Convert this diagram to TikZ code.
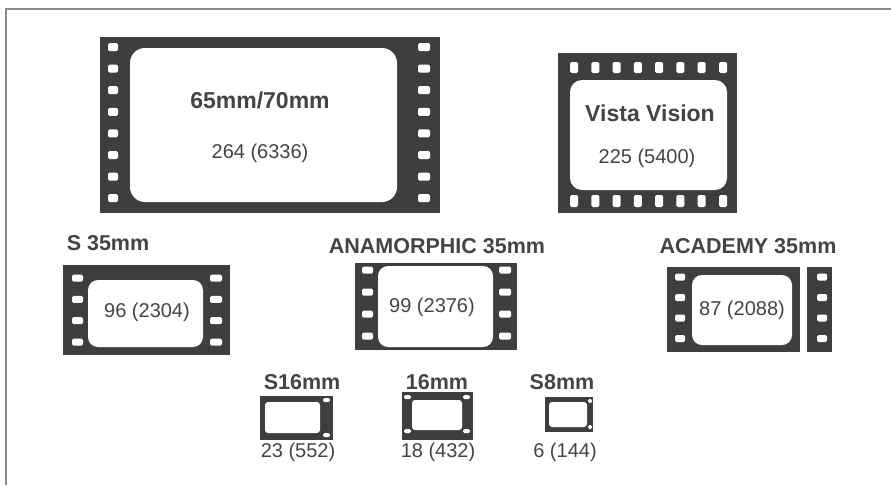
\documentclass[tikz,border=0pt]{standalone}
\usepackage{fontspec}
\setmainfont{Liberation Sans}
\usetikzlibrary{positioning}
\definecolor{filmgray}{HTML}{3E3E3E}
\definecolor{txtgray}{HTML}{444444}
\definecolor{rulegray}{HTML}{8C8C8C}
\begin{document}
\begin{tikzpicture}[x=1pt, y=-1pt,
  film/.style={fill=filmgray},
  win/.style={fill=white, rounded corners=#1},
  win/.default=10pt,
  perf/.style={fill=white, rounded corners=1.5pt},
  ttl/.style={text=txtgray, font=\bfseries\fontsize{23}{26}\selectfont, inner sep=0pt},
  lbl/.style={text=txtgray, font=\bfseries\fontsize{21.5}{24}\selectfont, inner sep=0pt},
  val/.style={text=txtgray, font=\fontsize{20}{22}\selectfont, inner sep=0pt}]
\useasboundingbox (0,0) rectangle (891,485);
% page rule
\draw[rulegray, line width=1.4pt] (6,485) -- (6,9) -- (891,9);
% 65mm/70mm
\fill[film] (100,37) rectangle (440,213);
\fill[win=15pt] (130,48) rectangle (397,202);
\foreach \y in {47,68.6,90.2,111.8,133.4,155,176.6,198.2} {
  \fill[perf] (108,\y-4) rectangle (118,\y+4);
  \fill[perf] (418,\y-4) rectangle (430,\y+4);
}
\node[ttl] (t1) at (260,100) {65mm/70mm};
\node[val] (v1) at (260,153) {264 (6336)};
% Vista Vision
\fill[film] (558,53) rectangle (737,213);
\fill[win=12pt] (570,80) rectangle (727,190);
\foreach \x in {574,595.3,616.6,637.9,659.1,680.4,701.7,723} {
  \fill[perf] (\x-4,62) rectangle (\x+4,73);
  \fill[perf] (\x-4,195) rectangle (\x+4,207);
}
\node[ttl] (t2) at (650,113) {Vista Vision};
\node[val] (v2) at (647,158) {225 (5400)};
% S 35mm
\fill[film] (63,265) rectangle (230,355);
\fill[win] (88,280) rectangle (203,347);
\foreach \y in {278,299.3,320.6,342} {
  \fill[perf] (72,\y-3.5) rectangle (83,\y+3.5);
  \fill[perf] (210,\y-3.5) rectangle (222,\y+3.5);
}
\node[lbl] (t3) at (108,243) {S 35mm};
\node[val] (v3) at (147,312) {96 (2304)};
% anamorphic 35mm
\fill[film] (355,263) rectangle (517,350);
\fill[win] (378,266) rectangle (493,347);
\foreach \y in {270,292,314,336} {
  \fill[perf] (362,\y-3.5) rectangle (373,\y+3.5);
  \fill[perf] (499,\y-3.5) rectangle (511,\y+3.5);
}
\node[lbl] (t4) at (437,246) {ANAMORPHIC 35mm};
\node[val] (v4) at (432,307) {99 (2376)};
% academy 35mm
\fill[film] (667,267) rectangle (832,352);
\fill[win] (692,275) rectangle (792,345);
\fill[white] (800,267) rectangle (807,352);
\foreach \y in {277,297.5,318,338.5} {
  \fill[perf] (675,\y-3.5) rectangle (685,\y+3.5);
  \fill[perf] (817,\y-3.5) rectangle (827,\y+3.5);
}
\node[lbl] (t5) at (748,246) {ACADEMY 35mm};
\node[val] (v5) at (742,310) {87 (2088)};
% S16mm
\fill[film] (260,396) rectangle (333,440);
\fill[win=3pt] (265,402) rectangle (320,433);
\fill[perf] (323,398) rectangle (330,402);
\fill[perf] (323,433) rectangle (330,437);
\node[lbl] (t6) at (302,382) {S16mm};
\node[val] (v6) at (298,452) {23 (552)};
% 16mm
\fill[film] (402,392) rectangle (473,440);
\fill[win=3pt] (412,400) rectangle (462,430);
\foreach \x in {404,463} {
  \fill[perf] (\x,395) rectangle (\x+7,399);
  \fill[perf] (\x,429) rectangle (\x+7,433);
}
\node[lbl] (t7) at (437,382) {16mm};
\node[val] (v7) at (438,452) {18 (432)};
% S8mm
\fill[film] (545,397) rectangle (593,432);
\fill[win=3pt] (549,402) rectangle (587,427);
\fill[perf] (588,399) rectangle (592,403);
\fill[perf] (588,425) rectangle (592,429);
\node[lbl] (t8) at (562,382) {S8mm};
\node[val] (v8) at (565,452) {6 (144)};
\end{tikzpicture}
\end{document}
